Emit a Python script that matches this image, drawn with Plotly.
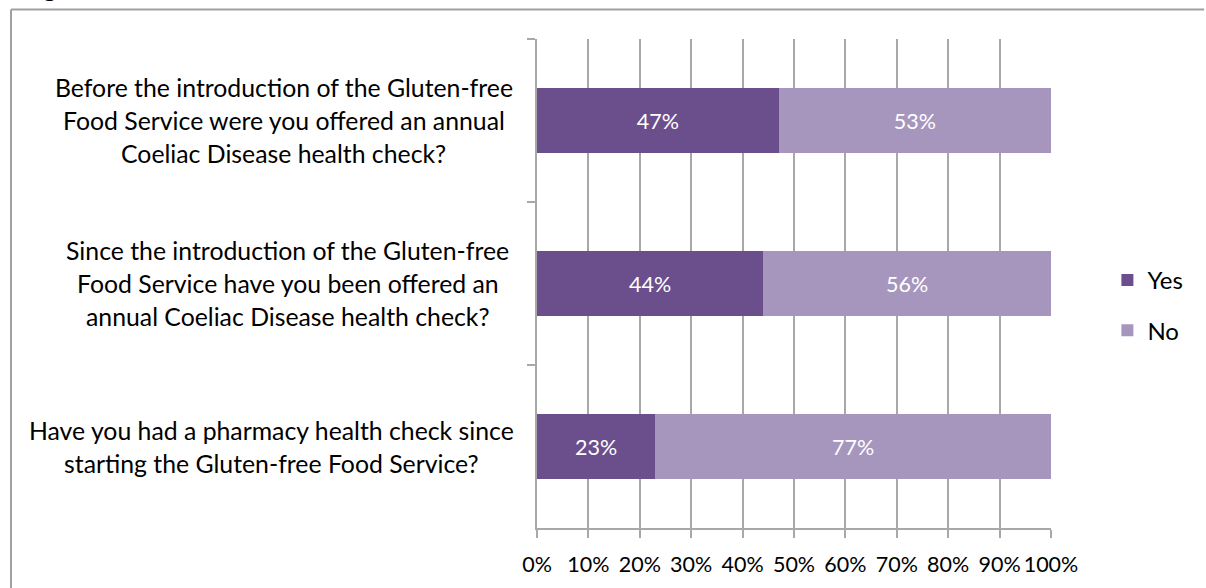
import plotly.graph_objects as go

# ---- data ----
categories = [
    "Before the introduction of the Gluten-free Food Service were you offered an annual Coeliac Disease health check?",
    "Since the introduction of the Gluten-free Food Service have you been offered an annual Coeliac Disease health check?",
    "Have you had a pharmacy health check since starting the Gluten-free Food Service?",
]
category_lines = [
    ["Before the introduction of the Gluten-free",
     "Food Service were you offered an annual",
     "Coeliac Disease health check?"],
    ["Since the introduction of the Gluten-free",
     "Food Service have you been offered an",
     "annual Coeliac Disease health check?"],
    ["Have you had a pharmacy health check since",
     "starting the Gluten-free Food Service?"],
]
yes_pct = [47, 44, 23]
no_pct = [53, 56, 77]
x_ticks = [0, 10, 20, 30, 40, 50, 60, 70, 80, 90, 100]
x_tick_labels = [f"{t}%" for t in x_ticks]

# ---- layout geometry (pixels) ----
W, H = 1206, 588
L, R, T, B = 536.5, 154.5, 39, 60
PW, PH = W - L - R, H - T - B
label_center_px = [283, 287, 270]   # centre of each wrapped label block

def px_x(px):
    return (px - L) / PW

def px_y(py):
    return (H - B - py) / PH

FONT = "Lato"
LABEL_SIZE = 24.8
NUM_SIZE = 21.5
YES_C = "#6A4F8C"
NO_C = "#A696BE"
GRID = "#A8A8A8"

fig = go.Figure()
fig.add_trace(go.Bar(
    y=categories, x=[v / 100 for v in yes_pct], orientation="h", name="Yes",
    marker=dict(color=YES_C, line=dict(width=0)),
    text=[f"{v}%" for v in yes_pct], textposition="inside",
    insidetextanchor="middle", textfont=dict(color="white", size=NUM_SIZE, family=FONT),
    legendgroup="a",
))
fig.add_trace(go.Bar(
    y=categories, x=[v / 100 for v in no_pct], orientation="h", name="No",
    marker=dict(color=NO_C, line=dict(width=0)),
    text=[f"{v}%" for v in no_pct], textposition="inside",
    insidetextanchor="middle", textfont=dict(color="white", size=NUM_SIZE, family=FONT),
    legendgroup="b",
))

annotations = []
LINE_H = 33
for cat, lines, cx in zip(categories, category_lines, label_center_px):
    n = len(lines)
    for j, line in enumerate(lines):
        annotations.append(dict(
            x=px_x(cx), xref="paper", y=cat, yref="y",
            yshift=-(j - (n - 1) / 2) * LINE_H,
            text=line, showarrow=False, xanchor="center", yanchor="middle",
            font=dict(family=FONT, size=LABEL_SIZE, color="#000000"),
        ))

annotations.append(dict(
    x=px_x(19), xref="paper", y=px_y(4), yref="paper",
    text="<b>Figure</b>", showarrow=False, xanchor="left", yanchor="bottom",
    font=dict(family=FONT, size=LABEL_SIZE, color="#000000"),
))

shapes = [
    dict(type="line", xref="paper", yref="paper",
         x0=px_x(9.5), x1=px_x(9.5), y0=px_y(9.5), y1=px_y(600),
         line=dict(color="#A0A0A0", width=2)),
    dict(type="line", xref="paper", yref="paper",
         x0=px_x(9.5), x1=px_x(1205), y0=px_y(9.5), y1=px_y(9.5),
         line=dict(color="#A0A0A0", width=2)),
]

fig.update_layout(
    width=W, height=H,
    margin=dict(l=L, r=R, t=T, b=B, pad=0, autoexpand=False),
    paper_bgcolor="white", plot_bgcolor="white",
    barmode="stack", bargap=0.6,
    font=dict(family=FONT, size=LABEL_SIZE, color="#000000"),
    showlegend=True,
    legend=dict(x=px_x(1108), y=px_y(258), xanchor="left", yanchor="top",
                font=dict(family=FONT, size=24, color="#000000"),
                tracegroupgap=16, bgcolor="rgba(0,0,0,0)"),
    annotations=annotations,
    shapes=shapes,
    xaxis=dict(
        range=[0, 1], tickmode="array", tickvals=[t / 100 for t in x_ticks],
        ticktext=x_tick_labels, showgrid=True, gridcolor=GRID, gridwidth=1.5,
        showline=True, linecolor=GRID, linewidth=1.5,
        ticks="outside", ticklen=8, tickcolor=GRID, tickwidth=1.5,
        ticklabelstandoff=8, tickangle=0, automargin=False,
        tickfont=dict(family=FONT, size=NUM_SIZE, color="#000000"),
        zeroline=False, fixedrange=True,
    ),
    yaxis=dict(
        categoryorder="array", categoryarray=categories, autorange="reversed",
        showticklabels=False, showgrid=False, zeroline=False,
        showline=True, linecolor=GRID, linewidth=1.5,
        ticks="outside", ticklen=8, tickcolor=GRID, tickwidth=1.5,
        tickson="boundaries", fixedrange=True, automargin=False,
    ),
)

fig.write_html("out.html")
